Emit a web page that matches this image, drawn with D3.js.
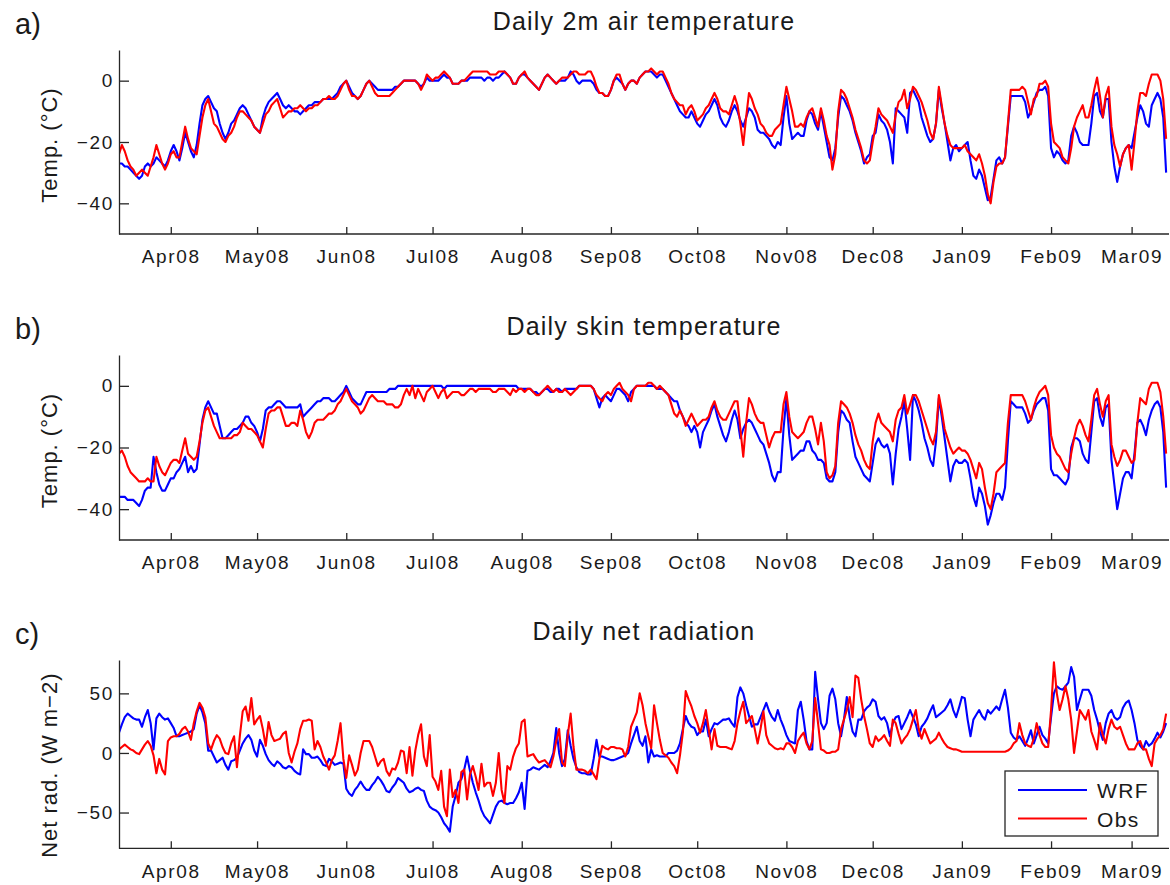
<!DOCTYPE html>
<html><head><meta charset="utf-8">
<script src="https://cdn.jsdelivr.net/npm/d3@7"></script>
<style>
html,body{margin:0;padding:0;background:#fff;}
svg text{font-family:"Liberation Sans",Arial,Helvetica,sans-serif;fill:#1a1a1a;}
</style></head><body>
<svg id="chart" width="1170" height="885"></svg>
<script>
// ---------------- data ----------------
const startDate = "2008-03-14";
const endDate = "2009-03-14";
const monthLabels = ["Apr08","May08","Jun08","Jul08","Aug08","Sep08","Oct08","Nov08","Dec08","Jan09","Feb09","Mar09"];
const tempTicks = [-40, -20, 0];
const radTicks = [-50, 0, 50];
const seriesNames = ["WRF", "Obs"];
const panelTitles = ["Daily 2m air temperature", "Daily skin temperature", "Daily net radiation"];
const panelLetters = ["a)", "b)", "c)"];
const yLabels = ["Temp. (\u00B0C)", "Temp. (\u00B0C)", "Net rad. (W m\u22122)"];

// a) daily 2m air temperature (degC)
const airWRF = [
-27,-27,-28,-28,-29,-30,-31,-32,-31,-28,
-27,-28,-27,-25,-26,-27,-28,-26,-23,-21,
-23,-26,-22,-17,-20,-23,-25,-21,-14,-8,
-6,-5,-7,-9,-10,-14,-17,-19,-17,-14,
-13,-11,-9,-8,-9,-11,-13,-15,-16,-17,
-12,-9,-7,-6,-5,-4,-6,-8,-9,-8,
-9,-10,-10,-11,-10,-9,-8,-8,-7,-7,
-7,-6,-6,-6,-6,-5,-4,-2,-1,0,
-2,-4,-5,-6,-5,-3,-1,0,-1,-2,
-3,-3,-3,-3,-3,-3,-2,-2,-1,0,
0,0,0,0,-1,-2,-1,1,0,0,
0,0,1,2,1,1,-1,-1,-1,0,
0,0,1,1,1,1,1,0,1,1,
0,1,1,2,3,2,1,-1,-1,1,
2,2,1,0,-1,-2,-3,-1,1,2,
1,0,-1,0,0,0,1,3,2,0,
-1,0,0,0,0,-1,-3,-4,-4,-5,
-5,-3,0,1,0,-1,-3,-1,0,0,
-1,1,2,3,3,3,2,1,2,2,
0,-2,-4,-6,-8,-10,-11,-12,-12,-10,
-12,-14,-15,-13,-11,-10,-8,-6,-8,-12,
-14,-15,-13,-10,-8,-10,-13,-15,-12,-9,
-10,-12,-16,-17,-17,-18,-19,-21,-22,-20,
-21,-12,-5,-14,-19,-18,-17,-18,-18,-13,
-10,-11,-14,-16,-10,-15,-20,-25,-26,-22,
-12,-5,-6,-8,-10,-13,-17,-20,-23,-27,
-25,-24,-18,-17,-11,-13,-14,-16,-20,-27,
-9,-10,-11,-12,-17,-4,-3,-5,-7,-12,
-15,-18,-20,-19,-14,-3,-9,-14,-20,-26,
-22,-21,-23,-22,-21,-20,-26,-31,-32,-29,
-31,-35,-39,-38,-32,-26,-25,-27,-25,-15,
-5,-5,-5,-5,-5,-7,-12,-10,-7,-4,
-3,-3,-2,-5,-22,-25,-23,-24,-26,-27,
-26,-18,-15,-17,-20,-21,-21,-21,-14,-5,
-4,-10,-12,-6,-6,-20,-28,-33,-28,-24,
-22,-21,-22,-17,-12,-8,-10,-14,-15,-8,
-6,-4,-6,-12,-30];
const airObs = [
-24,-21,-23,-26,-28,-29,-31,-30,-29,-30,
-31,-28,-25,-21,-24,-27,-29,-27,-24,-23,
-25,-25,-20,-15,-19,-22,-23,-24,-18,-12,
-8,-6,-10,-14,-15,-17,-19,-20,-18,-17,
-15,-12,-10,-10,-11,-12,-13,-15,-16,-17,
-14,-11,-10,-8,-7,-6,-9,-12,-11,-10,
-10,-9,-9,-8,-9,-10,-9,-9,-8,-8,
-7,-6,-6,-5,-6,-6,-5,-3,-1,0,
-3,-5,-5,-6,-5,-3,-1,0,-2,-4,
-5,-5,-5,-5,-5,-4,-3,-2,-1,0,
0,0,0,0,-1,-3,-1,2,1,0,
1,1,2,3,2,1,-1,-1,-1,0,
0,1,2,3,3,3,3,3,3,2,
2,2,3,3,3,2,1,-1,-1,1,
2,3,1,0,-1,-2,-3,-1,1,2,
1,0,-1,0,1,1,1,2,3,3,
2,2,2,3,3,1,-2,-4,-4,-5,
-5,-3,0,2,2,-1,-3,-1,0,0,
-1,1,2,3,3,4,3,2,3,3,
1,-1,-4,-6,-7,-8,-8,-11,-9,-8,
-10,-13,-12,-11,-9,-8,-6,-4,-6,-9,
-10,-10,-11,-8,-5,-8,-14,-21,-12,-4,
-6,-9,-11,-14,-15,-17,-18,-18,-16,-15,
-14,-8,-2,-6,-10,-15,-15,-14,-15,-12,
-10,-9,-12,-15,-9,-13,-18,-21,-29,-24,
-10,-3,-4,-6,-9,-12,-16,-19,-22,-26,
-27,-26,-20,-15,-9,-11,-12,-13,-15,-17,
-11,-7,-6,-3,-9,-6,-2,-3,-5,-7,
-10,-13,-17,-19,-14,-2,-8,-14,-18,-21,
-22,-22,-22,-22,-21,-23,-24,-25,-26,-24,
-27,-31,-37,-40,-33,-28,-27,-27,-25,-14,
-3,-3,-3,-3,-2,-3,-7,-11,-6,-5,
-1,-1,0,-2,-14,-20,-21,-22,-25,-26,
-27,-22,-15,-12,-10,-8,-12,-12,-8,-3,
1,-5,-12,-5,-2,-15,-21,-24,-28,-24,
-22,-21,-29,-20,-10,-4,-4,-5,-1,2,
2,2,0,-6,-19];

// b) daily skin temperature (degC)
const skinWRF = [
-36,-36,-36,-37,-37,-37,-38,-39,-37,-34,
-33,-33,-23,-28,-32,-34,-34,-32,-30,-30,
-28,-27,-25,-23,-28,-26,-28,-27,-19,-11,
-7,-5,-7,-9,-9,-13,-17,-17,-16,-15,
-14,-14,-13,-12,-10,-10,-12,-13,-15,-18,
-14,-8,-7,-7,-6,-5,-5,-6,-7,-7,
-7,-7,-7,-6,-10,-9,-8,-7,-6,-5,
-5,-4,-4,-4,-5,-5,-4,-3,-2,0,
-2,-4,-5,-6,-6,-4,-2,-2,-2,-2,
-2,-2,-2,-2,-1,-1,-1,0,0,0,
0,0,0,0,0,0,0,0,0,0,
0,0,0,-1,0,0,0,0,0,0,
0,0,0,0,0,0,0,0,0,0,
0,0,0,0,0,0,0,0,0,-1,
-1,-1,-1,-1,-2,-2,-3,-2,-1,-1,
-2,-2,-1,-1,-2,-1,-1,-1,-1,-1,
0,0,0,0,0,-1,-4,-7,-4,-3,
-4,-5,-3,-1,-1,-2,-3,-5,-2,-1,
0,0,0,0,0,0,0,-1,-1,-1,
-2,-3,-4,-5,-5,-8,-10,-12,-13,-15,
-13,-15,-20,-15,-13,-11,-8,-6,-10,-13,
-16,-18,-15,-11,-8,-11,-17,-14,-12,-11,
-12,-14,-16,-18,-19,-22,-25,-29,-31,-28,
-28,-14,-4,-16,-24,-23,-22,-21,-21,-18,
-18,-21,-22,-24,-24,-25,-30,-31,-31,-28,
-15,-8,-9,-11,-12,-18,-23,-25,-27,-29,
-30,-31,-25,-19,-17,-19,-20,-19,-22,-32,
-22,-14,-10,-5,-14,-24,-3,-5,-8,-12,
-17,-20,-24,-26,-18,-4,-10,-17,-24,-31,
-26,-24,-25,-25,-24,-25,-30,-36,-39,-33,
-35,-39,-45,-42,-38,-35,-35,-37,-33,-18,
-5,-6,-7,-7,-7,-9,-12,-11,-8,-6,
-5,-4,-4,-8,-27,-29,-29,-30,-31,-32,
-30,-20,-17,-17,-18,-22,-24,-25,-15,-5,
-4,-10,-13,-7,-6,-24,-32,-40,-35,-30,
-28,-28,-30,-22,-12,-11,-13,-16,-11,-8,
-6,-5,-7,-15,-33];
const skinObs = [
-22,-21,-23,-26,-28,-29,-30,-31,-31,-31,
-30,-31,-31,-23,-26,-28,-29,-27,-25,-24,
-24,-25,-21,-17,-22,-23,-24,-23,-18,-12,
-8,-7,-10,-13,-15,-17,-17,-17,-17,-17,
-16,-16,-15,-12,-13,-14,-14,-15,-16,-18,
-20,-14,-9,-8,-8,-7,-7,-10,-13,-13,
-12,-12,-13,-8,-11,-15,-17,-15,-12,-11,
-11,-11,-10,-9,-9,-8,-6,-5,-3,-1,
-3,-5,-6,-7,-9,-8,-6,-4,-3,-4,
-5,-5,-5,-6,-6,-6,-7,-7,-6,-3,
-1,-3,0,-4,-1,-3,-5,-2,-1,0,
-2,-4,-2,-1,-4,-3,-2,-2,-2,-3,
-3,-2,-1,-1,-2,-1,-1,-1,-1,-1,
-2,-2,-1,-1,-1,-2,-3,-1,-2,-1,
-1,-2,-1,-1,-2,-3,-3,-2,-1,0,
-1,-2,-1,-2,-2,-1,-2,-3,-2,-1,
0,0,0,0,0,-1,-3,-4,-5,-3,
-2,-3,-1,0,1,-1,-2,-3,-5,-1,
0,0,0,0,1,1,0,-1,0,-1,
-2,-3,-6,-9,-10,-8,-10,-13,-11,-9,
-11,-13,-12,-11,-11,-10,-7,-5,-8,-10,
-11,-11,-9,-7,-5,-5,-14,-23,-12,-4,
-6,-9,-11,-12,-12,-16,-20,-17,-15,-15,
-15,-6,-2,-10,-15,-16,-17,-16,-15,-12,
-10,-10,-14,-19,-12,-18,-28,-30,-29,-26,
-12,-5,-6,-7,-9,-12,-16,-19,-21,-24,
-26,-27,-18,-12,-9,-12,-13,-14,-15,-18,
-11,-8,-7,-3,-9,-6,-3,-3,-5,-8,
-11,-14,-17,-19,-15,-3,-8,-14,-17,-20,
-22,-21,-20,-21,-21,-22,-24,-27,-30,-25,
-27,-33,-38,-40,-35,-28,-27,-26,-25,-12,
-3,-3,-3,-3,-3,-5,-8,-11,-7,-4,
-2,-1,0,-3,-16,-20,-22,-23,-25,-27,
-28,-22,-17,-13,-11,-13,-16,-18,-11,-3,
-1,-6,-10,-5,-3,-19,-23,-26,-24,-21,
-21,-23,-25,-24,-12,-4,-5,-6,-1,1,
1,1,-2,-10,-22];

// c) daily net radiation (W m-2)
const radWRF = [
17,24,30,33,31,29,28,28,22,30,
36,25,3,29,33,30,28,29,25,21,
14,14,15,16,17,18,20,33,40,34,
25,2,2,-3,-8,-6,-4,-10,-14,-7,
-6,-4,2,8,12,15,11,2,-3,11,
6,-1,-6,-9,-11,-7,-9,-12,-13,-11,
-12,-15,-17,-18,3,-1,-1,-4,-4,-3,
-6,-10,-11,-5,-7,-10,-9,-8,-9,-30,
-34,-36,-31,-28,-24,-28,-31,-31,-27,-24,
-20,-23,-27,-32,-33,-29,-26,-21,-23,-25,
-30,-33,-32,-30,-29,-31,-32,-40,-45,-47,
-48,-50,-54,-59,-62,-66,-45,-36,-25,-22,
-14,-3,-15,-25,-33,-40,-48,-53,-56,-59,
-52,-45,-41,-40,-42,-43,-42,-42,-38,-33,
-25,-47,-15,-14,-12,-13,-14,-12,-10,-12,
-7,0,21,0,-11,-5,19,6,-5,-12,
-16,-17,-17,-18,-18,-5,11,-3,-3,-4,
-5,-6,-6,-5,-4,-3,-2,0,8,15,
22,10,6,14,-8,3,-3,-2,-3,-3,
-3,0,0,0,2,8,20,31,25,22,
21,15,18,18,28,14,20,25,24,26,
28,28,29,25,22,47,55,50,40,31,
22,24,24,30,36,42,35,30,27,36,
28,22,15,10,9,8,36,43,28,10,
3,3,68,45,25,20,25,48,54,45,
25,14,28,47,30,18,14,28,28,35,
38,40,45,43,31,28,30,25,14,25,
30,31,20,25,30,36,30,24,14,22,
25,29,35,40,30,32,34,36,40,45,
36,30,38,47,46,28,14,28,32,36,
31,28,36,33,36,39,36,45,53,38,
17,13,11,14,10,6,12,19,8,15,
22,15,12,8,30,50,56,54,53,56,
59,72,64,36,45,53,53,53,48,36,
28,18,11,25,33,36,30,28,30,38,
42,44,36,25,11,6,3,10,6,8,
12,17,13,18,25];
const radObs = [
3,5,7,5,3,2,0,-1,3,7,
10,6,-2,-17,-5,-14,-18,10,13,14,
14,16,20,22,18,11,25,35,42,38,
30,8,3,10,15,12,5,0,-1,8,
14,-12,14,35,39,27,46,24,28,31,
20,6,26,15,10,11,12,16,18,0,
-8,1,8,20,27,27,28,27,3,10,
5,-3,-8,-14,-6,-2,10,25,-5,-21,
-2,-10,-19,-14,0,10,10,10,5,-3,
-11,-7,-5,-15,-19,-13,-14,-8,2,1,
-17,5,-19,2,15,24,-3,-11,15,-20,
-24,-31,-15,-45,-53,-14,-37,-31,-42,-16,
-14,-39,-18,-11,-20,-31,-9,-28,-25,-25,
-36,-25,0,-31,-42,-11,-14,-3,4,8,
26,28,-3,-2,-1,-5,-8,-7,-6,-9,
-12,-3,10,20,-8,-11,15,33,5,-14,
-14,-14,-15,-17,-14,-18,-22,-5,6,4,
3,5,5,4,4,3,-3,5,22,28,
34,50,40,25,14,4,40,25,11,0,
-2,-4,-8,-11,-17,-2,17,52,45,39,
31,25,17,25,36,20,3,20,6,5,
5,5,4,3,10,25,35,43,25,28,
31,20,8,20,35,15,8,6,4,3,
4,3,8,8,5,0,10,14,17,8,
3,10,46,25,3,2,0,0,1,1,
3,20,28,36,47,30,65,63,45,31,
20,8,5,14,10,12,15,10,6,28,
25,16,8,12,15,20,28,36,20,12,
20,14,8,10,12,17,12,8,5,4,
3,3,2,1,1,1,1,1,1,1,
1,1,1,1,1,1,1,1,1,2,
4,8,10,25,15,8,6,5,12,25,
15,8,5,5,36,76,50,36,45,56,
45,28,0,18,36,32,28,36,18,11,
3,25,15,8,20,28,22,20,22,15,
8,3,3,3,8,10,3,3,-5,-11,
8,12,15,20,33];

// ---------------- drawing ----------------
const svg = d3.select("#chart");
const parse = d3.timeParse("%Y-%m-%d");
const t0 = parse(startDate), t1 = parse(endDate);
const monthParse = d3.timeParse("%b%y");
const tickDates = monthLabels.map(s => monthParse(s));

const x = d3.scaleTime().domain([t0, t1]).range([119, 1169]);

const colors = {WRF: "#0000ff", Obs: "#ff0000"};
const axisColor = "#262626";

const panels = [
  {wrf: airWRF, obs: airObs, domain: [-50, 10], ticks: tempTicks, top: 50, bottom: 234, labelShift: 3},
  {wrf: skinWRF, obs: skinObs, domain: [-50, 10], ticks: tempTicks, top: 355, bottom: 540, labelShift: 3},
  {wrf: radWRF, obs: radObs, domain: [-80, 78], ticks: radTicks, top: 660, bottom: 848.3, labelShift: 11}
];

const fmtY = v => (v < 0 ? "\u2212" + Math.abs(v) : String(v));

panels.forEach((p, pi) => {
  const y = d3.scaleLinear().domain(p.domain).range([p.bottom, p.top]);
  const g = svg.append("g");

  const cid = "clip" + pi;
  svg.append("clipPath").attr("id", cid).append("rect")
    .attr("x", 119).attr("y", p.top).attr("width", 1050).attr("height", p.bottom - p.top);

  const series = [["WRF", p.wrf], ["Obs", p.obs]];
  series.forEach(([name, vals]) => {
    const line = d3.line()
      .x((d, i) => x(d3.timeDay.offset(t0, i)))
      .y(d => y(d));
    g.append("path").datum(vals)
      .attr("clip-path", `url(#${cid})`)
      .attr("fill", "none")
      .attr("stroke", colors[name])
      .attr("stroke-width", 2.1)
      .attr("stroke-linejoin", "round")
      .attr("d", line);
  });

  const xa = g.append("g").attr("transform", `translate(0,${p.bottom})`)
    .call(d3.axisBottom(x).tickValues(tickDates).tickFormat((d, i) => monthLabels[i])
      .tickSizeInner(-7).tickSizeOuter(0).tickPadding(16));
  const ya = g.append("g").attr("transform", `translate(119,0)`)
    .call(d3.axisLeft(y).tickValues(p.ticks).tickFormat(fmtY)
      .tickSizeInner(-10).tickSizeOuter(0).tickPadding(5));

  [xa, ya].forEach(a => {
    a.select(".domain").attr("stroke", axisColor).attr("stroke-width", 1.3);
    a.selectAll(".tick line").attr("stroke", axisColor).attr("stroke-width", 1.3);
    a.selectAll(".tick text")
      .style("font-family", '"Liberation Sans", Arial, sans-serif')
      .style("font-size", "19px").style("letter-spacing", "1.7px")
      .attr("fill", "#1a1a1a");
  });
  xa.selectAll(".domain").attr("d", `M119,0H1169`);

  g.append("text").attr("x", 644).attr("y", p.top - 20)
    .attr("text-anchor", "middle")
    .style("font-size", "25px").style("letter-spacing", "1.2px")
    .text(panelTitles[pi]);
  g.append("text").attr("x", 15).attr("y", p.top - 16)
    .style("font-size", "29px")
    .text(panelLetters[pi]);
  g.append("text")
    .attr("transform", `translate(57,${(p.top + p.bottom) / 2 + p.labelShift}) rotate(-90)`)
    .attr("text-anchor", "middle")
    .style("font-size", "22px").style("letter-spacing", "1px")
    .text(yLabels[pi]);

  if (pi === 2) {
    const lg = svg.append("g");
    lg.append("rect").attr("x", 1005).attr("y", 771).attr("width", 153).attr("height", 65)
      .attr("fill", "#fff").attr("stroke", axisColor).attr("stroke-width", 1.3);
    seriesNames.forEach((n, k) => {
      const yy = 790 + k * 28.5;
      lg.append("line").attr("x1", 1018).attr("x2", 1087).attr("y1", yy).attr("y2", yy)
        .attr("stroke", colors[n]).attr("stroke-width", 2.1);
      lg.append("text").attr("x", 1097).attr("y", yy + 8)
        .style("font-size", "21px").style("letter-spacing", "1.4px")
        .text(n);
    });
  }
});
</script>
</body></html>
